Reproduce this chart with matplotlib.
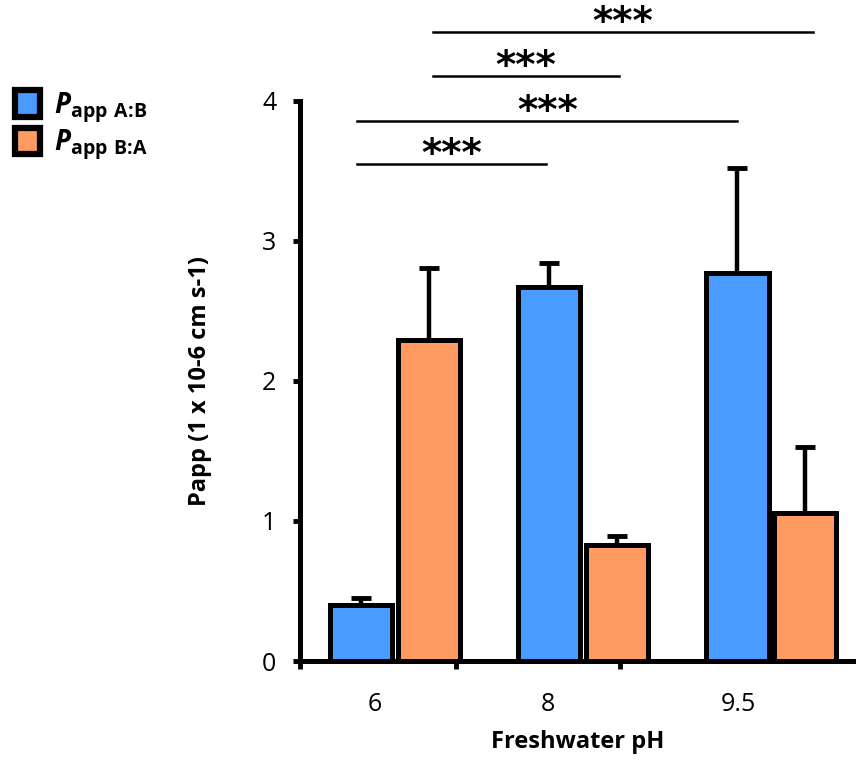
import matplotlib
matplotlib.use("Agg")
import numpy as np
import matplotlib.pyplot as plt
from matplotlib.patches import Patch

plt.rcParams['font.family'] = ['Open Sans', 'DejaVu Sans']
plt.rcParams['mathtext.fontset'] = 'custom'
plt.rcParams['mathtext.bf'] = 'Open Sans:bold'
plt.rcParams['mathtext.bfit'] = 'Open Sans:bold:italic'
plt.rcParams['mathtext.rm'] = 'Open Sans'

groups = ["6", "8", "9.5"]
papp_ab = [0.40, 2.67, 2.77]
papp_ab_err = [0.05, 0.17, 0.75]
papp_ba = [2.29, 0.83, 1.06]
papp_ba_err = [0.52, 0.06, 0.47]

# significance brackets: (x start, x end, height)
sig_lines = [(0.20, 2.22, 4.49), (0.20, 1.19, 4.18), (-0.20, 1.82, 3.86), (-0.20, 0.80, 3.55)]
sig_text = "***"

blue = "#4a9bff"
orange = "#ff9a60"

fig = plt.figure(figsize=(8.56, 7.61), dpi=100)
ax = fig.add_axes([0.3505, 0.1314, 0.6495, 0.7359])

x = np.arange(len(groups))
w = 0.33
ax.bar(x - 0.18, papp_ab, w, color=blue, edgecolor="black", linewidth=3.6, zorder=3)
ax.bar(x + 0.18, papp_ba, w, color=orange, edgecolor="black", linewidth=3.6, zorder=3)
ax.errorbar(x - 0.18, papp_ab, yerr=[np.zeros(3), papp_ab_err], fmt="none",
            ecolor="black", elinewidth=3.2, capsize=7, capthick=3.5, zorder=2)
ax.errorbar(x + 0.18, papp_ba, yerr=[np.zeros(3), papp_ba_err], fmt="none",
            ecolor="black", elinewidth=3.2, capsize=7, capthick=3.5, zorder=2)

for x0, x1, h in sig_lines:
    ax.plot([x0, x1], [h, h], color="black", lw=1.8, clip_on=False)
    ax.text((x0 + x1) / 2, h - 0.015, sig_text, ha="center", va="baseline",
            fontsize=28, fontweight="bold", family="DejaVu Sans", clip_on=False)

ax.set_xlim(-0.505, 2.45)
ax.set_ylim(0, 4)
ax.set_yticks([0, 1, 2, 3, 4])
ax.tick_params(axis="y", direction="out", length=5, width=3.5, labelsize=18, pad=12)
ax.set_xticks([-0.505, 0.324, 1.197])
ax.set_xticklabels([])
ax.tick_params(axis="x", which="major", direction="out", length=6, width=3.5)
ax.set_xticks([-0.106, 0.814, 1.824], minor=True)
ax.set_xticklabels(groups, minor=True)
ax.tick_params(axis="x", which="minor", length=0, labelsize=18, pad=22)

for s in ["top", "right"]:
    ax.spines[s].set_visible(False)
for s in ["left", "bottom"]:
    ax.spines[s].set_linewidth(3.6)

ax.set_xlabel("Freshwater pH", fontsize=17, fontweight="bold", labelpad=10)
ax.set_ylabel("Papp (1 x 10-6 cm s-1)", fontsize=17, fontweight="bold", labelpad=36)

handles = [Patch(facecolor=blue, edgecolor="black", linewidth=4.5),
           Patch(facecolor=orange, edgecolor="black", linewidth=4.5)]
labels = [r"$\mathbfit{P}_{\mathbf{app\ A\!:\!B}}$", r"$\mathbfit{P}_{\mathbf{app\ B\!:\!A}}$"]
fig.legend(handles, labels, loc="upper left", bbox_to_anchor=(-0.012, 0.915), frameon=False,
           fontsize=20, handlelength=0.9, handleheight=1.1, handletextpad=0.5, labelspacing=0.1)

fig.savefig("out.png", dpi=100)
